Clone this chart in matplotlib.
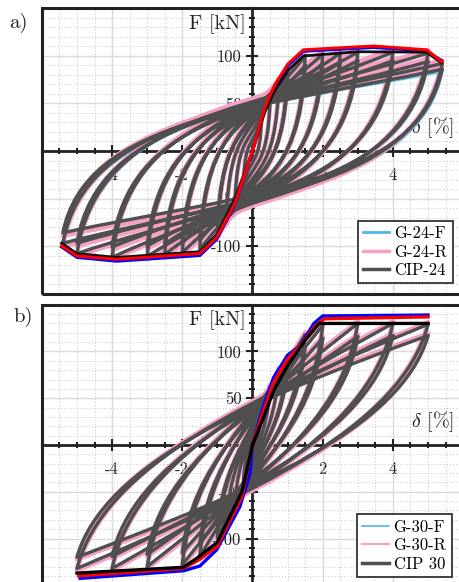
import matplotlib
matplotlib.use("Agg")
import matplotlib.pyplot as plt
from matplotlib.path import Path
from matplotlib.patches import PathPatch, Rectangle
from matplotlib.lines import Line2D
from matplotlib.ticker import MultipleLocator, FixedLocator

plt.rcParams['font.family'] = 'serif'
plt.rcParams['font.serif'] = ['cmr10']
plt.rcParams['mathtext.fontset'] = 'cm'
plt.rcParams['axes.unicode_minus'] = False

# ---------------- panel a: cycle peaks ----------------
# drift amplitude of each cycle (%), peak force + / - (kN), force at zero drift (kN)
a_drift = [0.25, 0.5, 0.75, 1.0, 1.0, 1.5, 1.5, 2.0, 2.0, 2.5, 2.5, 3.0, 3.0, 4.0, 4.0, 5.0, 5.0, 5.4, 5.4]

cip24_fpos = [33, 55, 72, 86, 78, 100, 90, 102, 92, 103, 93, 104, 95, 104, 95, 103, 94, 92, 86]
cip24_fneg = [-33, -56, -74, -88, -80, -104, -94, -107, -96, -109, -98, -111, -100, -112, -101, -108, -97, -97, -86]
cip24_f0 = [4, 8, 13, 20, 18, 27, 25, 32, 30, 36, 34, 39, 37, 42, 40, 45, 43, 46, 44]

g24r_fpos = [36, 58, 76, 90, 82, 104, 93, 106, 96, 107, 97, 108, 98, 108, 98, 106, 97, 95, 89]
g24r_fneg = [-36, -59, -77, -91, -83, -107, -97, -110, -99, -112, -101, -114, -103, -114, -104, -110, -100, -100, -89]
g24r_f0 = [7, 12, 17, 25, 23, 32, 30, 37, 35, 41, 39, 44, 42, 47, 45, 50, 48, 51, 49]

g24f_fpos = [34, 57, 74, 88, 80, 102, 91, 104, 93, 106, 94, 107, 95, 106, 95, 104, 94, 90, 84]
g24f_fneg = [-34, -57, -75, -90, -82, -106, -95, -109, -98, -110, -99, -112, -101, -113, -102, -111, -100, -99, -88]
g24f_f0 = [5, 10, 15, 22, 20, 29, 27, 34, 32, 38, 36, 41, 39, 44, 42, 47, 45, 48, 46]

# envelopes (backbone curves)
env_a_red_x = [-5.44, -5.0, -3.87, -1.5, -1.02, -0.5, 0, 0.36, 0.64, 1.02, 1.45, 3.44, 4.96, 5.39]
env_a_red_y = [-100, -110.5, -114, -108, -91, -55, 0, 47, 70, 92, 106.5, 110.5, 106.5, 94]
env_a_blue_x = [-5.44, -5.0, -3.87, -1.5, -1.02, -0.5, 0, 0.36, 0.64, 1.02, 1.45, 3.44, 4.96, 5.39]
env_a_blue_y = [-101, -112, -116, -110, -93, -56, 0, 45, 68, 90, 105, 109, 105.5, 95]
env_a_black_x = [-5.44, -5.0, -3.87, -1.5, -1.02, -0.5, 0, 0.36, 0.64, 1.02, 1.45, 3.0, 4.96, 5.39]
env_a_black_y = [-97, -108, -112, -106, -88, -50, 0, 42, 64, 85, 100, 104.5, 104, 92.6]

# ---------------- panel b ----------------
b_drift = [0.25, 0.5, 0.75, 1.0, 1.0, 1.5, 1.5, 2.0, 2.0, 3.0, 3.0, 4.0, 4.0, 5.0, 5.0]

cip30_fpos = [35, 62, 80, 92, 84, 118, 105, 128, 114, 130, 116, 130, 117, 129, 117]
cip30_fneg = [-36, -64, -84, -100, -90, -119, -106, -128, -115, -130, -117, -132, -119, -132, -120]
cip30_f0 = [4, 8, 12, 17, 15, 24, 21, 32, 29, 40, 37, 47, 44, 52, 49]

g30r_fpos = [37, 64, 82, 95, 86, 120, 107, 130, 116, 132, 118, 132, 119, 131, 119]
g30r_fneg = [-38, -66, -86, -102, -92, -121, -108, -130, -117, -132, -119, -134, -121, -134, -122]
g30r_f0 = [7, 12, 16, 21, 19, 28, 25, 36, 33, 44, 41, 51, 48, 56, 53]

g30f_fpos = [36, 63, 81, 94, 85, 119, 106, 129, 115, 131, 117, 131, 118, 130, 118]
g30f_fneg = [-37, -65, -85, -101, -91, -120, -107, -129, -116, -131, -118, -133, -120, -133, -121]
g30f_f0 = [6, 10, 14, 19, 17, 26, 23, 34, 31, 42, 39, 49, 46, 54, 51]

env_b_blue_x = [-4.91, -1.97, -1.5, -1.02, -0.36, -0.07, 0, 0.3, 0.6, 1.0, 1.35, 1.75, 2.0, 5.0]
env_b_blue_y = [-142.6, -134.5, -129.4, -112, -66, -30, 0, 40, 72, 96, 106, 130, 138, 139]
env_b_red_x = [-4.95, -1.97, -1.5, -1.0, -0.3, 0, 0.3, 0.6, 1.0, 1.4, 1.8, 2.05, 5.0]
env_b_red_y = [-140, -132, -122.3, -108, -55, 0, 35, 67, 92, 108, 128, 135, 137]
env_b_black_x = [-5.0, -1.97, -1.59, -1.0, -0.3, 0, 0.3, 0.6, 1.0, 1.5, 1.9, 5.0]
env_b_black_y = [-137, -130.8, -121.2, -104, -50, 0, 28, 58, 85, 112, 130, 130]

GRAY = '#4f4f4f'
PINK = '#f6a0c6'
LBLUE = '#4fb6e8'


def loop_path(drift, fpos, fneg, f0, u, v):
    # one closed loop per cycle: peak+ -> unloading -> peak- -> reloading -> peak+
    verts, codes = [], []
    for d, fp, fn, f in zip(drift, fpos, fneg, f0):
        verts += [(d, fp), (d * (1 - u), fp - v * (fp - fn)), (0, -f), (-d, fn),
                  (-d * (1 - u), fn + v * (fp - fn)), (0, f), (d, fp)]
        codes += [Path.MOVETO] + [Path.CURVE4] * 6
    return Path(verts, codes)


def add_loops(ax, drift, fpos, fneg, f0, color, lw, shape):
    p = loop_path(drift, fpos, fneg, f0, *shape)
    ax.add_patch(PathPatch(p, facecolor='none', edgecolor=color, lw=lw,
                           capstyle='round', joinstyle='round', zorder=3))


def setup_axes(ax):
    ax.set_xlim(-6, 6)
    ax.set_ylim(-150, 150)
    for s in ['top', 'right']:
        ax.spines[s].set_visible(False)
    for s in ['left', 'bottom']:
        ax.spines[s].set_position('zero')
        ax.spines[s].set_linewidth(2.0)
        ax.spines[s].set_color('#222222')
        ax.spines[s].set_zorder(1)
    ax.set_axisbelow(True)
    ax.xaxis.set_major_locator(FixedLocator([-4, -2, 2, 4]))
    ax.set_xticklabels(['-4', '-2', '2', '4'])
    ax.xaxis.set_minor_locator(MultipleLocator(0.5))
    ax.yaxis.set_major_locator(FixedLocator([-100, -50, 50, 100]))
    ax.set_yticklabels(['-100', '-50', '50', '100'])
    ax.yaxis.set_minor_locator(MultipleLocator(10))
    ax.tick_params(which='both', direction='inout', width=1.5, color='#222222',
                   labelsize=12, labelcolor='#222222')
    ax.tick_params(which='major', length=8)
    ax.tick_params(which='minor', length=5)
    ax.tick_params(axis='x', pad=8)
    ax.tick_params(axis='y', pad=4)
    ax.grid(which='major', color='#dadada', lw=1.0)
    ax.grid(which='minor', color='#c4c4c4', lw=0.7, ls=(0, (1, 2.2)))
    ax.add_patch(Rectangle((0, 0), 1, 1, transform=ax.transAxes, fill=False,
                           lw=2.2, ec='#222222', clip_on=False, zorder=6))
    ax.text(-1.0, 134, 'F [kN]', fontsize=14.5, ha='center', va='center',
            color='#222222', zorder=1)
    ax.text(5.12, 25, r'$\delta$ [%]', fontsize=14.5, ha='center', va='center',
            color='#222222', zorder=1)


fig = plt.figure(figsize=(4.59, 5.82), dpi=100)
ax_a = fig.add_axes([0.0913, 0.4957, 0.9176, 0.4897])
ax_b = fig.add_axes([0.0913, -0.0056, 0.9176, 0.482])

shape_a = (0.12, 0.7)
shape_b = (0.15, 0.42)

# panel a
setup_axes(ax_a)
add_loops(ax_a, a_drift, g24f_fpos, g24f_fneg, g24f_f0, LBLUE, 2.4, shape_a)
add_loops(ax_a, a_drift, g24r_fpos, g24r_fneg, g24r_f0, PINK, 3.4, shape_a)
add_loops(ax_a, a_drift, cip24_fpos, cip24_fneg, cip24_f0, GRAY, 2.4, shape_a)
ax_a.plot(env_a_blue_x, env_a_blue_y, color='#0000ff', lw=2.2, zorder=4)
ax_a.plot(env_a_black_x, env_a_black_y, color='#111111', lw=2.0, zorder=4)
ax_a.plot(env_a_red_x, env_a_red_y, color='#ff0000', lw=2.2, zorder=4)
handles_a = [Line2D([], [], color=LBLUE, lw=2.0), Line2D([], [], color=PINK, lw=2.5),
             Line2D([], [], color=GRAY, lw=2.5)]
ax_a.legend(handles_a, ['G-24-F', 'G-24-R', 'CIP-24'], loc='lower left',
            bbox_to_anchor=(0.75, 0.036), fontsize=12, frameon=True, fancybox=False,
            edgecolor='#333333', framealpha=1, handlelength=1.6, handletextpad=0.3,
            labelspacing=0.2, borderpad=0.3, borderaxespad=0).get_frame().set_linewidth(1.3)

# panel b
setup_axes(ax_b)
add_loops(ax_b, b_drift, g30f_fpos, g30f_fneg, g30f_f0, LBLUE, 2.4, shape_b)
add_loops(ax_b, b_drift, g30r_fpos, g30r_fneg, g30r_f0, PINK, 3.4, shape_b)
add_loops(ax_b, b_drift, cip30_fpos, cip30_fneg, cip30_f0, GRAY, 2.4, shape_b)
ax_b.plot(env_b_blue_x, env_b_blue_y, color='#0000ff', lw=2.4, zorder=4)
ax_b.plot(env_b_red_x, env_b_red_y, color='#ff0000', lw=2.4, zorder=4)
ax_b.plot(env_b_black_x, env_b_black_y, color='#000000', lw=2.4, zorder=4)
handles_b = [Line2D([], [], color=LBLUE, lw=1.2), Line2D([], [], color=PINK, lw=1.5),
             Line2D([], [], color=GRAY, lw=2.5)]
ax_b.legend(handles_b, ['G-30-F', 'G-30-R', 'CIP 30'], loc='lower left',
            bbox_to_anchor=(0.748, 0.03), fontsize=12, frameon=True, fancybox=False,
            edgecolor='#333333', framealpha=1, handlelength=1.6, handletextpad=0.3,
            labelspacing=0.2, borderpad=0.3, borderaxespad=0).get_frame().set_linewidth(1.3)

fig.text(18 / 459, 1 - 23 / 582, 'a)', fontsize=15, ha='center', va='center', color='#222222')
fig.text(23 / 459, 1 - 317 / 582, 'b)', fontsize=15, ha='center', va='center', color='#222222')

fig.savefig('out.png', dpi=100)
